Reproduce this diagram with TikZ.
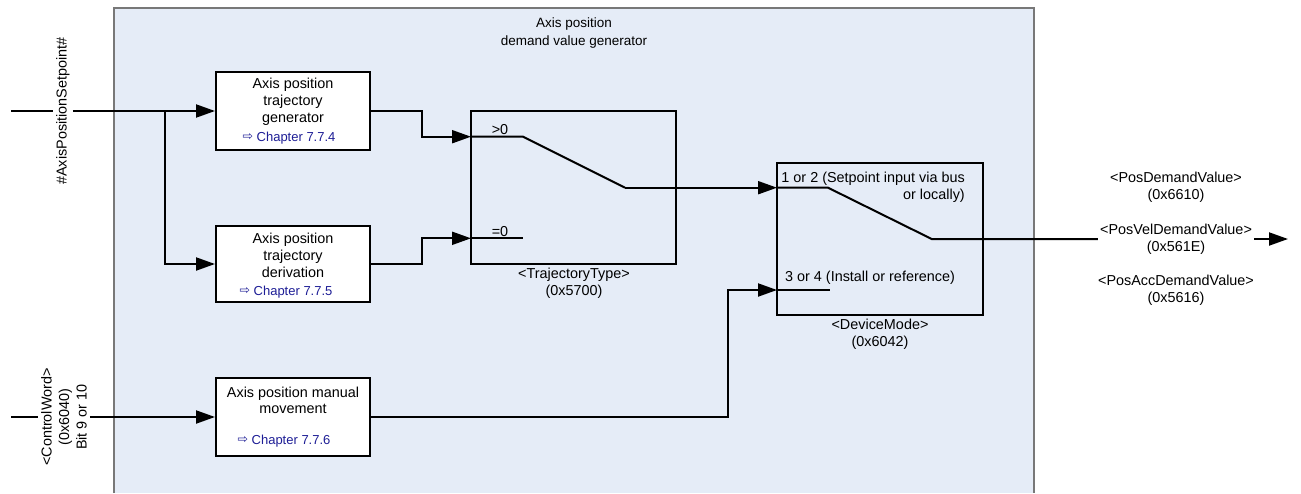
\documentclass[tikz,border=0pt]{standalone}
\usepackage{fontspec}
\setmainfont{Liberation Sans}
\newfontfamily\symfnt{DejaVu Sans}
\usetikzlibrary{arrows.meta}
\definecolor{panelfill}{RGB}{229,236,247}
\definecolor{panelline}{RGB}{120,120,120}
\definecolor{chapblue}{RGB}{30,30,150}
\newcommand{\chaparrow}{\raisebox{0.5pt}{\symfnt\fontsize{12.5}{12}\selectfont ⇨}}
\begin{document}
\begin{tikzpicture}[x=1pt,y=-1pt,
  txt/.style={font=\fontsize{14.4}{17}\selectfont, align=center, inner sep=0pt},
  ttl/.style={font=\fontsize{13.5}{18}\selectfont, align=center, inner sep=0pt},
  blk/.style={draw, line width=2pt, fill=white, minimum width=154pt, minimum height=78pt, inner sep=0pt},
  sw/.style={draw, line width=2pt, inner sep=0pt},
  wire/.style={line width=2pt},
  arr/.style={wire, -{Triangle[length=19pt,width=13pt]}},
  chap/.style={font=\fontsize{13}{15}\selectfont, text=chapblue, inner sep=0pt},
]
\useasboundingbox (0,0) rectangle (1301,493);
% panel
\fill[panelfill] (114,8) rectangle (1034,493);
\draw[panelline, line width=1.5pt] (114,493) -- (114,8) -- (1034,8) -- (1034,493);
\node[ttl] (title) at (574,33) {Axis position\\demand value generator};

% blocks
\node[blk] (gen) at (293,111) {};
\node[txt] (gent) at (293,102) {Axis position\\trajectory\\generator};
\node[chap] (genc) at (289,138) {\chaparrow\ Chapter 7.7.4};

\node[blk, minimum height=76pt] (der) at (293,264) {};
\node[txt] (dert) at (293,255) {Axis position\\trajectory\\derivation};
\node[chap] (derc) at (286,292) {\chaparrow\ Chapter 7.7.5};

\node[blk] (man) at (293,417) {};
\node[txt, font=\fontsize{14.4}{16}\selectfont] (mant) at (293,400) {Axis position manual\\movement};
\node[chap] (manc) at (284,441) {\chaparrow\ Chapter 7.7.6};

% switches
\node[sw, minimum width=205pt, minimum height=153pt] (tt) at (573.5,187.5) {};
\node[sw, minimum width=206pt, minimum height=152.5pt] (dm) at (880,238.75) {};
\node[txt] (ttl) at (574,283) {<TrajectoryType>\\(0x5700)};
\node[txt] (dml) at (880,334) {<DeviceMode>\\(0x6042)};
\node[txt] (gt0) at (500,130) {>0};
\node[txt] (eq0) at (500,232) {=0};
\node[txt, align=right, anchor=east] (m12) at (965,187.5) {1 or 2 (Setpoint input via bus\\or locally)};
\node[txt] (m34) at (870,278) {3 or 4 (Install or reference)};

\coordinate (ttin1) at (471,136.7);
\coordinate (ttin0) at (471,238.3);
\coordinate (ttk1) at (523,136.7);
\coordinate (ttk0) at (523,238.3);
\coordinate (ttd) at (625,187.7);
\coordinate (dmin1) at (777,187.7);
\coordinate (dmin2) at (777,290);
\coordinate (dmk1) at (828,187.7);
\coordinate (dmk2) at (830,290);
\coordinate (dmd) at (931.7,239);

% outputs
\node[txt] (odem) at (1176,187) {<PosDemandValue>\\(0x6610)};
\node[txt, inner sep=2pt] (ovel) at (1176,239) {<PosVelDemandValue>\\(0x561E)};
\node[txt] (oacc) at (1176,290) {<PosAccDemandValue>\\(0x5616)};
\coordinate (oend) at (1288,239);

% inputs
\node[txt, rotate=90, inner sep=3pt] (pin) at (63,111) {\#AxisPositionSetpoint\#};
\node[txt, font=\fontsize{14.4}{17.5}\selectfont, rotate=90, inner sep=3pt] (cw) at (64,417) {<ControlWord>\\(0x6040)\\Bit 9 or 10};
\coordinate (pinL) at (11,111);
\coordinate (cwL) at (11,417);
\coordinate (br) at (165,111);

% connectors
\draw[wire] (pinL) -- (pin.north);
\draw[arr] (pin.south) -- (gen.west);
\draw[arr] (br) |- (der.west);
\draw[wire] (cwL) -- (cw.north);
\draw[arr] (cw.south) -- (man.west);

\draw[arr] (gen.east) -- ++(51,0) |- (ttin1);
\draw[arr] (der.east) -- ++(51,0) |- (ttin0);
\draw[wire] (ttin1) -- (ttk1) -- (ttd);
\draw[arr] (ttd) -- (dmin1);
\draw[wire] (ttin0) -- (ttk0);

\draw[arr] (man.east) -- ++(357,0) |- (dmin2);
\draw[wire] (dmin1) -- (dmk1) -- (dmd) -- (ovel.west);
\draw[wire] (dmin2) -- (dmk2);
\draw[arr] (ovel.east) -- (oend);
\end{tikzpicture}
\end{document}
